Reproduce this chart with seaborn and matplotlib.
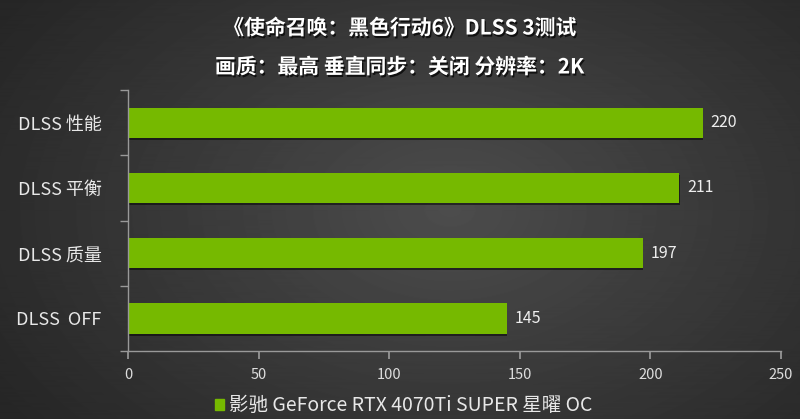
import numpy as np
import matplotlib
matplotlib.use("Agg")
import matplotlib.pyplot as plt
import matplotlib.patheffects as pe
import seaborn as sns

categories = ["DLSS 性能", "DLSS 平衡", "DLSS 质量", "DLSS  OFF"]
values = [220, 211, 197, 145]
series_name = "影驰 GeForce RTX 4070Ti SUPER 星曜 OC"
title_lines = ["《使命召唤：黑色行动6》DLSS 3测试", "画质：最高 垂直同步：关闭 分辨率：2K"]
x_ticks = [0, 50, 100, 150, 200, 250]

green = "#76b900"
sns.set_theme(style="dark")
plt.rcParams["font.family"] = ["Noto Sans CJK SC", "DejaVu Sans"]

fig = plt.figure(figsize=(8, 4.19), dpi=100)

# radial gradient background
bg = fig.add_axes([0, 0, 1, 1], zorder=-10)
yy, xx = np.mgrid[0:419, 0:800]
r = np.sqrt(((xx - 450) / 500) ** 2 + ((yy - 210) / 330) ** 2)
shade = np.clip(0.30 - 0.14 * r, 0.15, 0.30)
bg.imshow(shade, cmap="gray", vmin=0, vmax=1, aspect="auto")
bg.axis("off")

ax = fig.add_axes([0.16, 0.162, 0.8163, 0.623])
ax.set_facecolor("none")
sns.barplot(x=values, y=categories, color=green, width=0.46, ax=ax,
            saturation=1, orient="h", linewidth=0, edgecolor="none")
for p in ax.patches:
    p.set_path_effects([pe.SimplePatchShadow(offset=(0.5, -1.5), shadow_rgbFace="black", alpha=0.5),
                        pe.Normal()])

for i, v in enumerate(values):
    ax.text(v + 3, i, str(v), va="center", ha="left", color="#eeeeee", fontsize=11.5)

ax.set_xlim(0, 250)
ax.set_ylim(3.5, -0.5)
ax.set_xticks(x_ticks)
ax.set_xticklabels([str(t) for t in x_ticks], color="#dddddd", fontsize=10.5)
ax.set_yticks([-0.5, 0.5, 1.5, 2.5, 3.5], minor=True)
ax.set_yticks(range(len(categories)))
ax.set_yticklabels(categories, color="#e8e8e8", fontsize=13)
ax.tick_params(axis="y", which="major", length=0, pad=19)
ax.tick_params(axis="y", which="minor", length=6, color="#999999", left=True)
ax.tick_params(axis="x", length=6, color="#999999", bottom=True, pad=6)
ax.set_xlabel("")
ax.set_ylabel("")
ax.grid(False)
for s in ["top", "right"]:
    ax.spines[s].set_visible(False)
for s in ["left", "bottom"]:
    ax.spines[s].set_visible(True)
    ax.spines[s].set_color("#999999")
    ax.spines[s].set_linewidth(1)

shadow = [pe.withSimplePatchShadow(offset=(1, -1.5), shadow_rgbFace="black", alpha=0.7)]
fig.text(0.5, 1 - 28 / 419, title_lines[0], ha="center", va="center", color="white",
         fontsize=15, fontweight="bold", path_effects=shadow)
fig.text(0.5, 1 - 67 / 419, title_lines[1], ha="center", va="center", color="white",
         fontsize=15, fontweight="bold", path_effects=shadow)

# legend
fig.patches.append(plt.Rectangle((215 / 800, 1 - 410 / 419), 9 / 800, 11 / 419,
                                 transform=fig.transFigure, color=green))
fig.text(229 / 800, 1 - 405 / 419, series_name, ha="left", va="center",
         color="#e8e8e8", fontsize=14)

fig.savefig("out.png", dpi=100)
